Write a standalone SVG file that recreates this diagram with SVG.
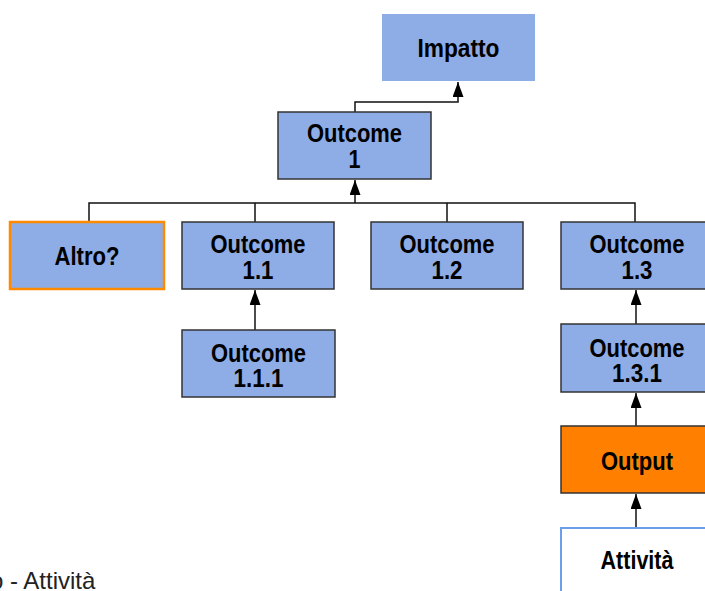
<svg xmlns="http://www.w3.org/2000/svg" width="705" height="591" viewBox="0 0 705 591">
<style>
  .box{fill:#8eace5;stroke:#333;stroke-width:1.5}
  .t{font-family:"Liberation Sans",Arial,sans-serif;font-weight:bold;font-size:25px;fill:#000;text-anchor:middle}
  .c{fill:none;stroke:#111;stroke-width:1.5}
</style>
<defs>
  <marker id="ah" markerUnits="userSpaceOnUse" markerWidth="16" markerHeight="12" refX="15" refY="5.5" orient="auto">
    <path d="M0,0 L15,5.5 L0,11 z" fill="#000"/>
  </marker>
</defs>
<rect width="705" height="591" fill="#fff"/>
<g id="connectors">
  <path class="c" d="M355 112 V102 H458 V82" marker-end="url(#ah)"/>
  <path class="c" d="M89 222 V203 H635 V222 M255 203 V222 M447 203 V222"/>
  <path class="c" d="M355 203 V180" marker-end="url(#ah)"/>
  <path class="c" d="M255 330 V290" marker-end="url(#ah)"/>
  <path class="c" d="M636 324 V290" marker-end="url(#ah)"/>
  <path class="c" d="M636 426 V393" marker-end="url(#ah)"/>
  <path class="c" d="M636 528 V494" marker-end="url(#ah)"/>
</g>
<g id="impatto">
  <rect x="382" y="14" width="153" height="67" fill="#8eace5"/>
  <text class="t" x="458.5" y="57" textLength="82" lengthAdjust="spacingAndGlyphs">Impatto</text>
</g>
<g id="outcome1">
  <rect class="box" x="278" y="112" width="153" height="67"/>
  <text class="t" x="354.5" y="142" textLength="95" lengthAdjust="spacingAndGlyphs">Outcome</text>
  <text class="t" x="354.5" y="168" textLength="12" lengthAdjust="spacingAndGlyphs">1</text>
</g>
<g id="altro">
  <rect x="10" y="222" width="154" height="67" fill="#8eace5" stroke="#ff8a00" stroke-width="2.5"/>
  <text class="t" x="87" y="265" textLength="65" lengthAdjust="spacingAndGlyphs">Altro?</text>
</g>
<g id="outcome11">
  <rect class="box" x="182" y="222" width="152" height="67"/>
  <text class="t" x="258" y="253" textLength="95" lengthAdjust="spacingAndGlyphs">Outcome</text>
  <text class="t" x="258" y="279" textLength="31" lengthAdjust="spacingAndGlyphs">1.1</text>
</g>
<g id="outcome12">
  <rect class="box" x="371" y="222" width="152" height="67"/>
  <text class="t" x="447" y="253" textLength="95" lengthAdjust="spacingAndGlyphs">Outcome</text>
  <text class="t" x="447" y="279" textLength="31" lengthAdjust="spacingAndGlyphs">1.2</text>
</g>
<g id="outcome13">
  <rect class="box" x="561" y="222" width="152" height="67"/>
  <text class="t" x="637" y="253" textLength="95" lengthAdjust="spacingAndGlyphs">Outcome</text>
  <text class="t" x="637" y="279" textLength="31" lengthAdjust="spacingAndGlyphs">1.3</text>
</g>
<g id="outcome111">
  <rect class="box" x="182" y="330" width="153" height="67"/>
  <text class="t" x="258.5" y="362" textLength="95" lengthAdjust="spacingAndGlyphs">Outcome</text>
  <text class="t" x="258.5" y="387" textLength="50" lengthAdjust="spacingAndGlyphs">1.1.1</text>
</g>
<g id="outcome131">
  <rect class="box" x="561" y="324" width="152" height="68"/>
  <text class="t" x="637" y="357" textLength="95" lengthAdjust="spacingAndGlyphs">Outcome</text>
  <text class="t" x="637" y="382" textLength="50" lengthAdjust="spacingAndGlyphs">1.3.1</text>
</g>
<g id="output">
  <rect x="561" y="426" width="152" height="67" fill="#ff8000" stroke="#333" stroke-width="1.5"/>
  <text class="t" x="637" y="470" textLength="72" lengthAdjust="spacingAndGlyphs">Output</text>
</g>
<g id="attivita">
  <rect x="561" y="528" width="152" height="80" fill="#fff" stroke="#6d9eeb" stroke-width="2"/>
  <text class="t" x="637" y="569" textLength="73" lengthAdjust="spacingAndGlyphs">Attività</text>
</g>
<text x="-10" y="589" font-family="'Liberation Sans',Arial,sans-serif" font-size="24" fill="#222">o - Attività</text>
</svg>
